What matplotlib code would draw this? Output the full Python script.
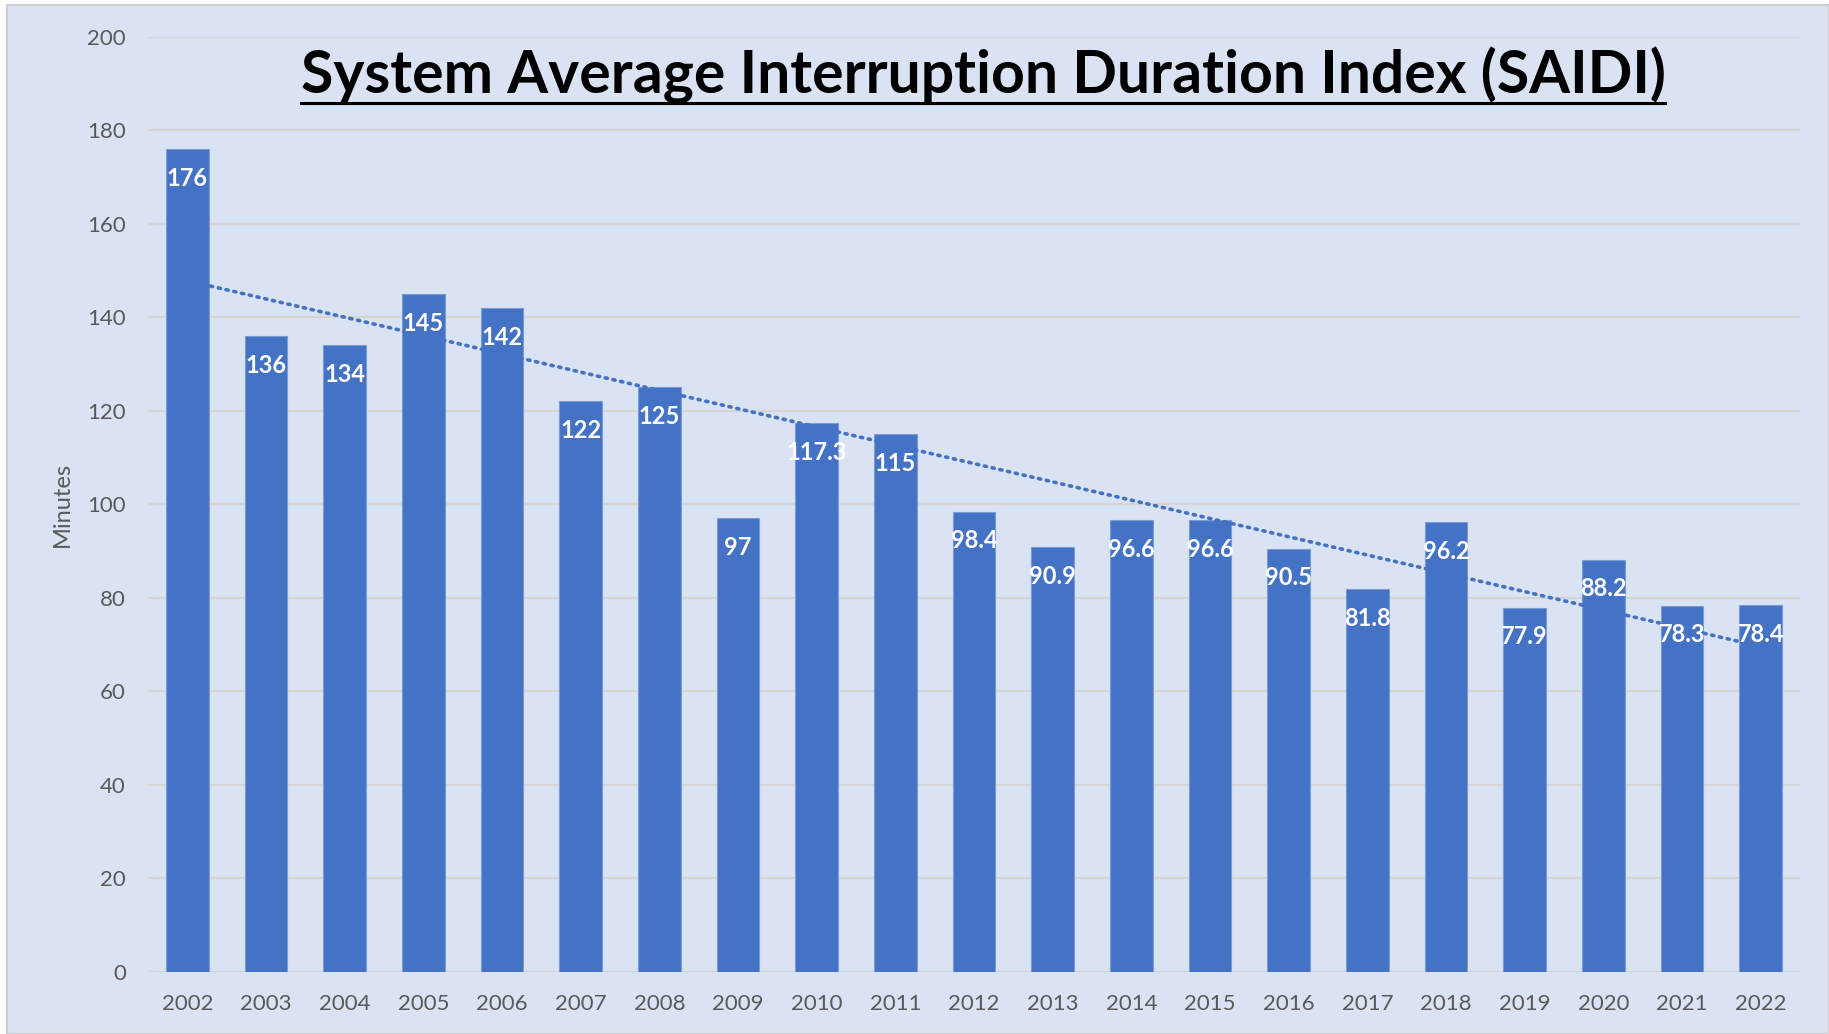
import numpy as np
import matplotlib.pyplot as plt
from matplotlib.patches import Rectangle
from matplotlib.lines import Line2D

years = [str(y) for y in range(2002, 2023)]
saidi = [176, 136, 134, 145, 142, 122, 125, 97, 117.3, 115, 98.4,
         90.9, 96.6, 96.6, 90.5, 81.8, 96.2, 77.9, 88.2, 78.3, 78.4]
labels = ['176', '136', '134', '145', '142', '122', '125', '97', '117.3', '115', '98.4',
          '90.9', '96.6', '96.6', '90.5', '81.8', '96.2', '77.9', '88.2', '78.3', '78.4']

BAR = '#4472C4'
BG = '#DAE3F3'
GREY = '#595959'
FONT = 'Lato'

W, H = 1829, 1034
fig = plt.figure(figsize=(W / 100, H / 100), dpi=100, facecolor='white')

# slide background panel
bg = Rectangle((7 / W, 0), 1 - 7 / W, 1 - 5 / H, transform=fig.transFigure,
               facecolor=BG, edgecolor='#CFCFCF', linewidth=1.5, zorder=-10)
fig.patches.append(bg)

ax = fig.add_axes([148 / W, 62 / H, (1800 - 148) / W, (972 - 36.7) / H])
ax.set_facecolor('none')
ax.set_zorder(1)

x = np.arange(len(years))
ax.bar(x, saidi, width=0.54, color=BAR, edgecolor='#7C9BD6', linewidth=0.8, zorder=2)

# linear trendline
k, b = np.polyfit(x, saidi, 1)
ax.plot(x, k * x + b, color=BAR, linewidth=2.6, linestyle=(0, (0.6, 1.6)),
        dash_capstyle='round', zorder=3)

for xi, v, s in zip(x, saidi, labels):
    ax.annotate(s, (xi, v), xytext=(0, -21), textcoords='offset points',
                ha='center', va='center', color='white', fontsize=17,
                fontweight='bold', family=FONT, zorder=4)

ax.set_xlim(-0.5, len(years) - 0.5)
ax.set_ylim(0, 200)
ax.set_yticks(range(0, 201, 20))
ax.set_xticks(x)
ax.set_xticklabels(years)
ax.grid(axis='y', color='#D5D5D5', linewidth=1.6, zorder=1)
ax.set_axisbelow(True)
for sp in ax.spines.values():
    sp.set_visible(False)
ax.tick_params(length=0, labelsize=16, labelcolor=GREY)
ax.tick_params(axis='y', pad=16)
ax.tick_params(axis='x', pad=16)
for t in ax.get_xticklabels() + ax.get_yticklabels():
    t.set_family(FONT)
ax.set_ylabel('Minutes', fontsize=17, color=GREY, family=FONT, labelpad=10)

title = fig.text(983 / W, 1 - 93 / H, 'System Average Interruption Duration Index (SAIDI)',
                 ha='center', va='baseline', fontsize=42.4, fontweight='bold',
                 family=FONT, color='black', zorder=5)
r = fig.canvas.get_renderer()
bb = title.get_window_extent(r)
uy = 1 - 103 / H
fig.lines.append(Line2D([bb.x0 / W, bb.x1 / W], [uy, uy], transform=fig.transFigure,
                        color='black', linewidth=2.2, zorder=5))

fig.savefig('out.png', dpi=100, facecolor=fig.get_facecolor())
